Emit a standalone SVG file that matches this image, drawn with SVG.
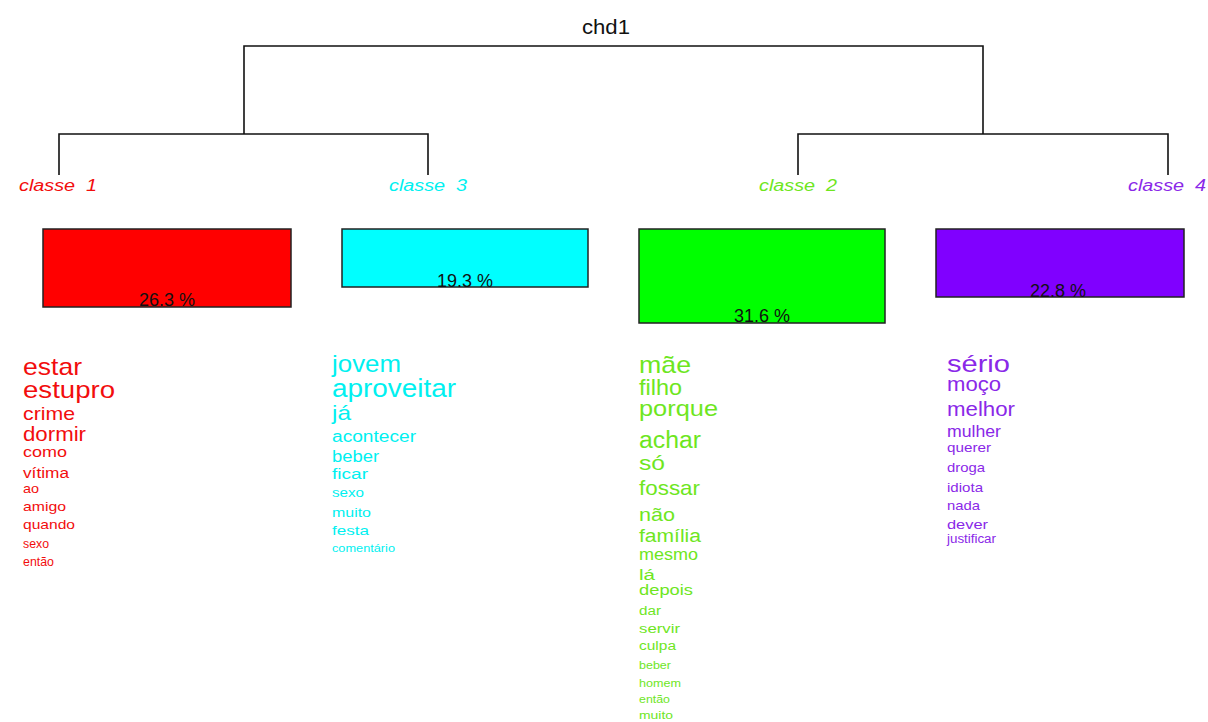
<svg xmlns="http://www.w3.org/2000/svg" width="1208" height="722" viewBox="0 0 1208 722">
<style>
text{font-family:"Liberation Sans",Arial,sans-serif}
.lbl{font-size:16px;font-style:italic;text-anchor:middle}
.pct{font-size:18px;text-anchor:middle;fill:#111}
.edge{fill:none;stroke:#111;stroke-width:1.6}
.box{stroke:#222;stroke-width:1.5}
.c1{fill:#f20d0d}.c3{fill:#00f0f0}.c2{fill:#6ee61e}.c4{fill:#8a28e8}
</style>
<rect width="1208" height="722" fill="#fff"/>
<text x="606" y="34" font-size="21" text-anchor="middle" fill="#111" textLength="48" lengthAdjust="spacingAndGlyphs">chd1</text>
<g id="connectors">
<path class="edge" d="M244,134 V46 H983 V134"/>
<path class="edge" d="M59,175 V134 H428 V175"/>
<path class="edge" d="M798,175 V134 H1168 V175"/>
</g>
<g id="classe1">
<text class="lbl c1" x="58" y="191" xml:space="preserve" textLength="78" lengthAdjust="spacingAndGlyphs">classe  1</text>
<rect class="box" x="43" y="229" width="248" height="78" fill="#ff0000"/>
<text class="pct" x="167" y="306">26.3 %</text>
<g class="c1">
<text x="23" y="375" font-size="24" textLength="59" lengthAdjust="spacingAndGlyphs">estar</text>
<text x="23" y="398" font-size="24" textLength="92" lengthAdjust="spacingAndGlyphs">estupro</text>
<text x="23" y="420" font-size="19" textLength="52" lengthAdjust="spacingAndGlyphs">crime</text>
<text x="23" y="441" font-size="20" textLength="63" lengthAdjust="spacingAndGlyphs">dormir</text>
<text x="23" y="457" font-size="15" textLength="44" lengthAdjust="spacingAndGlyphs">como</text>
<text x="23" y="478" font-size="14" textLength="46" lengthAdjust="spacingAndGlyphs">vítima</text>
<text x="23" y="493" font-size="13" textLength="16" lengthAdjust="spacingAndGlyphs">ao</text>
<text x="23" y="511" font-size="13" textLength="43" lengthAdjust="spacingAndGlyphs">amigo</text>
<text x="23" y="529" font-size="13" textLength="52" lengthAdjust="spacingAndGlyphs">quando</text>
<text x="23" y="548" font-size="12" textLength="26" lengthAdjust="spacingAndGlyphs">sexo</text>
<text x="23" y="566" font-size="12" textLength="31" lengthAdjust="spacingAndGlyphs">então</text>
</g>
</g>
<g id="classe3">
<text class="lbl c3" x="428" y="191" xml:space="preserve" textLength="78" lengthAdjust="spacingAndGlyphs">classe  3</text>
<rect class="box" x="342" y="229" width="246" height="58" fill="#00ffff"/>
<text class="pct" x="465" y="287">19.3 %</text>
<g class="c3">
<text x="332" y="372" font-size="24" textLength="69" lengthAdjust="spacingAndGlyphs">jovem</text>
<text x="332" y="397" font-size="25" textLength="124" lengthAdjust="spacingAndGlyphs">aproveitar</text>
<text x="332" y="420" font-size="21" textLength="19" lengthAdjust="spacingAndGlyphs">já</text>
<text x="332" y="442" font-size="16" textLength="84" lengthAdjust="spacingAndGlyphs">acontecer</text>
<text x="332" y="462" font-size="16" textLength="47" lengthAdjust="spacingAndGlyphs">beber</text>
<text x="332" y="479" font-size="14" textLength="36" lengthAdjust="spacingAndGlyphs">ficar</text>
<text x="332" y="497" font-size="13" textLength="32" lengthAdjust="spacingAndGlyphs">sexo</text>
<text x="332" y="517" font-size="13" textLength="39" lengthAdjust="spacingAndGlyphs">muito</text>
<text x="332" y="535" font-size="13" textLength="37" lengthAdjust="spacingAndGlyphs">festa</text>
<text x="332" y="552" font-size="11" textLength="63" lengthAdjust="spacingAndGlyphs">comentário</text>
</g>
</g>
<g id="classe2">
<text class="lbl c2" x="798" y="191" xml:space="preserve" textLength="78" lengthAdjust="spacingAndGlyphs">classe  2</text>
<rect class="box" x="639" y="229" width="246" height="94" fill="#00ff00"/>
<text class="pct" x="762" y="322">31.6 %</text>
<g class="c2">
<text x="639" y="373" font-size="24" textLength="52" lengthAdjust="spacingAndGlyphs">mãe</text>
<text x="639" y="395" font-size="22" textLength="43" lengthAdjust="spacingAndGlyphs">filho</text>
<text x="639" y="416" font-size="22" textLength="79" lengthAdjust="spacingAndGlyphs">porque</text>
<text x="639" y="448" font-size="23" textLength="62" lengthAdjust="spacingAndGlyphs">achar</text>
<text x="639" y="470" font-size="21" textLength="26" lengthAdjust="spacingAndGlyphs">só</text>
<text x="639" y="495" font-size="21" textLength="61" lengthAdjust="spacingAndGlyphs">fossar</text>
<text x="639" y="521" font-size="19" textLength="36" lengthAdjust="spacingAndGlyphs">não</text>
<text x="639" y="542" font-size="18" textLength="62" lengthAdjust="spacingAndGlyphs">família</text>
<text x="639" y="560" font-size="16" textLength="59" lengthAdjust="spacingAndGlyphs">mesmo</text>
<text x="639" y="580" font-size="14" textLength="16" lengthAdjust="spacingAndGlyphs">lá</text>
<text x="639" y="595" font-size="14" textLength="54" lengthAdjust="spacingAndGlyphs">depois</text>
<text x="639" y="615" font-size="12" textLength="22" lengthAdjust="spacingAndGlyphs">dar</text>
<text x="639" y="633" font-size="12" textLength="41" lengthAdjust="spacingAndGlyphs">servir</text>
<text x="639" y="650" font-size="12" textLength="37" lengthAdjust="spacingAndGlyphs">culpa</text>
<text x="639" y="669" font-size="11" textLength="32" lengthAdjust="spacingAndGlyphs">beber</text>
<text x="639" y="687" font-size="11" textLength="42" lengthAdjust="spacingAndGlyphs">homem</text>
<text x="639" y="703" font-size="11" textLength="31" lengthAdjust="spacingAndGlyphs">então</text>
<text x="639" y="719" font-size="11" textLength="34" lengthAdjust="spacingAndGlyphs">muito</text>
</g>
</g>
<g id="classe4">
<text class="lbl c4" x="1167" y="191" xml:space="preserve" textLength="78" lengthAdjust="spacingAndGlyphs">classe  4</text>
<rect class="box" x="936" y="229" width="248" height="68" fill="#8000ff"/>
<text class="pct" x="1058" y="297">22.8 %</text>
<g class="c4">
<text x="947" y="372" font-size="24" textLength="63" lengthAdjust="spacingAndGlyphs">sério</text>
<text x="947" y="391" font-size="20" textLength="54" lengthAdjust="spacingAndGlyphs">moço</text>
<text x="947" y="416" font-size="20" textLength="68" lengthAdjust="spacingAndGlyphs">melhor</text>
<text x="947" y="437" font-size="17" textLength="54" lengthAdjust="spacingAndGlyphs">mulher</text>
<text x="947" y="452" font-size="13" textLength="44" lengthAdjust="spacingAndGlyphs">querer</text>
<text x="947" y="472" font-size="13" textLength="38" lengthAdjust="spacingAndGlyphs">droga</text>
<text x="947" y="492" font-size="13" textLength="36" lengthAdjust="spacingAndGlyphs">idiota</text>
<text x="947" y="510" font-size="13" textLength="33" lengthAdjust="spacingAndGlyphs">nada</text>
<text x="947" y="529" font-size="13" textLength="41" lengthAdjust="spacingAndGlyphs">dever</text>
<text x="947" y="543" font-size="12" textLength="49" lengthAdjust="spacingAndGlyphs">justificar</text>
</g>
</g>
</svg>
